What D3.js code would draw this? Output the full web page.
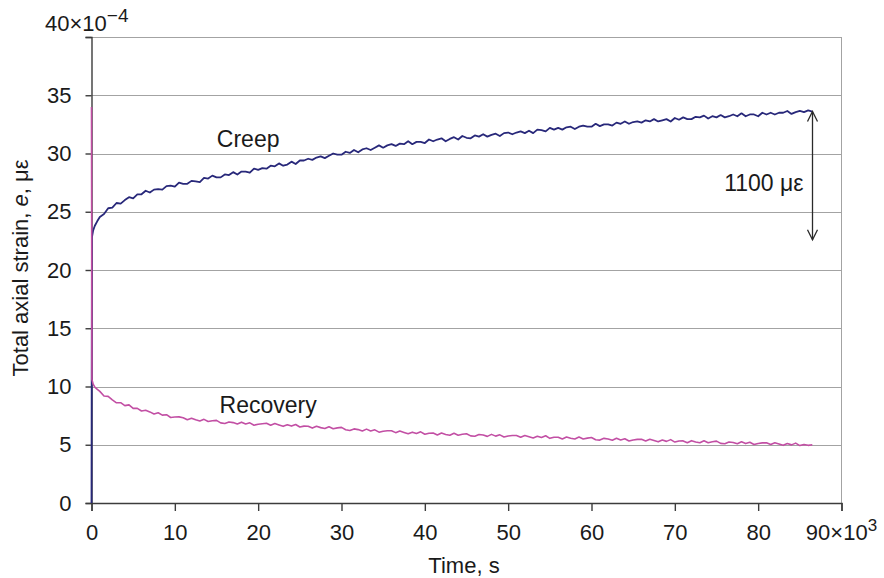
<!DOCTYPE html>
<html>
<head>
<meta charset="utf-8">
<script src="https://cdn.jsdelivr.net/npm/d3@7"></script>
<style>
  html, body { margin: 0; padding: 0; background: #fff; }
  svg { display: block; font-family: "Liberation Sans", Arial, sans-serif; }
</style>
</head>
<body>
<svg id="chart" width="884" height="578"></svg>
<script>
// ---- data (time in 10^3 s, strain in 10^-4) ----
const times = [
  0, 0.05, 0.2, 0.4, 0.7,
  1, 1.5, 2, 2.5, 3, 3.5, 4, 4.5, 5, 5.5,
  6, 6.5, 7, 7.5, 8, 8.5, 9, 9.5, 10, 10.5,
  11, 11.5, 12, 12.5, 13, 13.5, 14, 14.5, 15, 15.5,
  16, 16.5, 17, 17.5, 18, 18.5, 19, 19.5, 20, 20.5,
  21, 21.5, 22, 22.5, 23, 23.5, 24, 24.5, 25, 25.5,
  26, 26.5, 27, 27.5, 28, 28.5, 29, 29.5, 30, 30.5,
  31, 31.5, 32, 32.5, 33, 33.5, 34, 34.5, 35, 35.5,
  36, 36.5, 37, 37.5, 38, 38.5, 39, 39.5, 40, 40.5,
  41, 41.5, 42, 42.5, 43, 43.5, 44, 44.5, 45, 45.5,
  46, 46.5, 47, 47.5, 48, 48.5, 49, 49.5, 50, 50.5,
  51, 51.5, 52, 52.5, 53, 53.5, 54, 54.5, 55, 55.5,
  56, 56.5, 57, 57.5, 58, 58.5, 59, 59.5, 60, 60.5,
  61, 61.5, 62, 62.5, 63, 63.5, 64, 64.5, 65, 65.5,
  66, 66.5, 67, 67.5, 68, 68.5, 69, 69.5, 70, 70.5,
  71, 71.5, 72, 72.5, 73, 73.5, 74, 74.5, 75, 75.5,
  76, 76.5, 77, 77.5, 78, 78.5, 79, 79.5, 80, 80.5,
  81, 81.5, 82, 82.5, 83, 83.5, 84, 84.5, 85, 85.5,
  86, 86.5
];
const creep = [
  0, 22.8, 23.4, 23.8, 24.2,
  24.55, 24.8, 25.3, 25.35, 25.75, 25.7, 26.0, 26.25, 26.15, 26.5,
  26.5, 26.8, 26.65, 26.9, 26.95, 26.9, 27.2, 27.25, 27.15, 27.5,
  27.4, 27.4, 27.65, 27.6, 27.55, 27.9, 27.85, 28.1, 27.95, 27.95,
  28.2, 28.15, 28.4, 28.2, 28.45, 28.45, 28.35, 28.7, 28.6, 28.75,
  28.7, 28.95, 28.9, 29.15, 28.95, 29.05, 29.3, 29.1, 29.4, 29.4,
  29.55, 29.45, 29.65, 29.75, 29.6, 29.8, 30.0, 29.9, 29.9, 30.15,
  30.05, 30.3, 30.1, 30.35, 30.45, 30.3, 30.5, 30.7, 30.5, 30.7,
  30.8, 30.65, 30.85, 30.8, 31.05, 30.8, 31.0, 31.0, 30.9, 31.2,
  31.05, 31.2, 31.3, 31.05, 31.25, 31.4, 31.2, 31.5, 31.35, 31.3,
  31.55, 31.45, 31.65, 31.45, 31.6, 31.7, 31.5, 31.75, 31.8, 31.65,
  31.8, 31.9, 31.75, 31.95, 31.75, 32.05, 32.0, 31.9, 32.2, 32.05,
  32.2, 32.05, 32.25, 32.3, 32.1, 32.3, 32.4, 32.3, 32.3, 32.55,
  32.35, 32.5, 32.5, 32.4, 32.65, 32.55, 32.75, 32.55, 32.7, 32.75,
  32.65, 32.85, 32.75, 32.95, 32.75, 32.85, 32.95, 32.75, 33.05, 32.9,
  33.1, 32.95, 32.95, 33.15, 33.1, 33.25, 33.0, 33.2, 33.1, 33.3,
  33.1, 33.2, 33.35, 33.2, 33.45, 33.2, 33.35, 33.35, 33.2, 33.5,
  33.35, 33.5, 33.35, 33.5, 33.5, 33.65, 33.4, 33.55, 33.65, 33.55,
  33.7, 33.6
];
const recovery = [
  34.0, 10.6, 10.2, 9.95, 9.75,
  9.58, 9.19, 9.15, 8.85, 8.6, 8.61, 8.36, 8.42, 8.12, 8.12,
  7.9, 7.96, 7.82, 7.64, 7.75, 7.54, 7.58, 7.34, 7.38, 7.39,
  7.32, 7.14, 7.28, 7.14, 7.04, 7.18, 6.99, 7.06, 7.09, 6.88,
  6.83, 6.96, 6.9, 6.78, 6.94, 6.78, 6.88, 6.68, 6.76, 6.8,
  6.84, 6.68, 6.82, 6.7, 6.58, 6.72, 6.6, 6.74, 6.52, 6.6,
  6.59, 6.43, 6.59, 6.47, 6.39, 6.55, 6.37, 6.45, 6.49, 6.29,
  6.22, 6.36, 6.3, 6.18, 6.34, 6.18, 6.28, 6.08, 6.16, 6.2,
  6.2, 6.04, 6.18, 6.06, 5.94, 6.08, 5.96, 6.11, 5.9, 5.99,
  6.0, 5.84, 6.0, 5.88, 5.81, 5.98, 5.81, 5.9, 5.95, 5.76,
  5.73, 5.88, 5.83, 5.72, 5.89, 5.74, 5.85, 5.66, 5.75, 5.8,
  5.8, 5.65, 5.8, 5.69, 5.58, 5.73, 5.62, 5.77, 5.55, 5.64,
  5.65, 5.5, 5.67, 5.56, 5.49, 5.66, 5.49, 5.57, 5.62, 5.43,
  5.4, 5.55, 5.5, 5.39, 5.56, 5.41, 5.51, 5.32, 5.41, 5.46,
  5.47, 5.32, 5.47, 5.36, 5.25, 5.4, 5.29, 5.44, 5.23, 5.32,
  5.33, 5.18, 5.35, 5.24, 5.17, 5.34, 5.17, 5.26, 5.31, 5.12,
  5.09, 5.24, 5.19, 5.08, 5.25, 5.1, 5.21, 5.02, 5.11, 5.16,
  5.17, 5.02, 5.17, 5.06, 4.95, 5.1, 4.99, 5.14, 4.93, 5.02,
  4.95, 5.0
];
const xTicks = [0, 10, 20, 30, 40, 50, 60, 70, 80, 90];
const yTicks = [0, 5, 10, 15, 20, 25, 30, 35, 40];
const seriesLabels = [
  { name: "Creep", t: 18.8, v: 30.55 },
  { name: "Recovery", t: 21.2, v: 7.7 }
];
const annotation = { t: 86.5, top: 33.6, bottom: 22.6, label: "1100 με", labelV: 26.8 };

// ---- layout ----
const svg = d3.select("#chart");
const L = 91.5, R = 841.5, T = 37, B = 503;
const x = d3.scaleLinear().domain([0, 90]).range([L, R]);
const y = d3.scaleLinear().domain([0, 40]).range([B, T]);
const fontTick = 22;

// grid
svg.append("g").selectAll("line").data(yTicks.filter(d => d > 0)).join("line")
  .attr("x1", L).attr("x2", R)
  .attr("y1", d => Math.round(y(d)) + 0.5).attr("y2", d => Math.round(y(d)) + 0.5)
  .attr("stroke", "#a3a3a3").attr("stroke-width", 1);
svg.append("line").attr("x1", R).attr("x2", R).attr("y1", T).attr("y2", B)
  .attr("stroke", "#a3a3a3").attr("stroke-width", 1);

// axes
const yAxis = d3.axisLeft(y).tickValues(yTicks).tickSize(6).tickPadding(14)
  .tickFormat(d => d === 40 ? "" : d);
const gy = svg.append("g").attr("transform", `translate(${L},0)`).call(yAxis);
const xAxis = d3.axisBottom(x).tickValues(xTicks).tickSize(8).tickPadding(13)
  .tickFormat(d => d === 90 ? "" : d);
const gx = svg.append("g").attr("transform", `translate(0,${B})`).call(xAxis);
[gx, gy].forEach(g => {
  g.select(".domain").attr("stroke", "#3c3c3c").attr("stroke-width", 1.4);
  g.selectAll(".tick line").attr("stroke", "#3c3c3c").attr("stroke-width", 1.4);
  g.selectAll(".tick text").attr("fill", "#1a1a1a").attr("font-size", fontTick)
    .attr("font-family", "Liberation Sans, Arial, sans-serif");
});

// special tick labels with exponents
const topLbl = svg.append("text").attr("x", 45).attr("y", 31)
  .attr("font-size", fontTick).attr("fill", "#1a1a1a");
topLbl.append("tspan").text("40×10");
topLbl.append("tspan").attr("dy", -9).attr("font-size", 19).text("−4");

const rightLbl = svg.append("text").attr("x", x(90)).attr("y", 540)
  .attr("text-anchor", "middle").attr("font-size", fontTick).attr("fill", "#1a1a1a");
rightLbl.append("tspan").text("90×10");
rightLbl.append("tspan").attr("dy", -9).attr("font-size", 17).text("3");

// axis titles
svg.append("text").attr("x", 464).attr("y", 573).attr("text-anchor", "middle")
  .attr("font-size", 22).attr("fill", "#1a1a1a").text("Time, s");
const yt = svg.append("text").attr("transform", "translate(28,268) rotate(-90)")
  .attr("text-anchor", "middle").attr("font-size", 22).attr("fill", "#1a1a1a");
yt.append("tspan").text("Total axial strain, ");
yt.append("tspan").attr("font-style", "italic").text("e");
yt.append("tspan").text(", με");

// lines
const creepData = times.map((t, i) => [t, creep[i]]);
const recData = times.map((t, i) => [t, recovery[i]]);
const line = d3.line().x(d => x(d[0])).y(d => y(d[1]));
svg.append("path").datum(creepData).attr("d", line)
  .attr("fill", "none").attr("stroke", "#28287a").attr("stroke-width", 1.8)
  .attr("stroke-linejoin", "round");
svg.append("path").datum(recData).attr("d", line)
  .attr("fill", "none").attr("stroke", "#c24fa4").attr("stroke-width", 1.6)
  .attr("stroke-linejoin", "round");

// series labels
svg.append("g").selectAll("text").data(seriesLabels).join("text")
  .attr("x", d => x(d.t)).attr("y", d => y(d.v)).attr("text-anchor", "middle")
  .attr("font-size", 23).attr("fill", "#1a1a1a").text(d => d.name);

// annotation arrow
const ax = Math.round(x(annotation.t)) + 0.5;
const ay1 = y(annotation.top), ay2 = y(annotation.bottom);
const ag = svg.append("g").attr("stroke", "#2a2a2a").attr("stroke-width", 1.3).attr("fill", "none");
ag.append("line").attr("x1", ax).attr("x2", ax).attr("y1", ay1).attr("y2", ay2);
ag.append("path").attr("d", `M${ax - 5},${ay1 + 10}L${ax},${ay1}L${ax + 5},${ay1 + 10}`);
ag.append("path").attr("d", `M${ax - 5},${ay2 - 10}L${ax},${ay2}L${ax + 5},${ay2 - 10}`);
svg.append("text").attr("x", ax - 9).attr("y", y(annotation.labelV))
  .attr("text-anchor", "end").attr("font-size", 23).attr("fill", "#1a1a1a").text(annotation.label);
</script>
</body>
</html>
